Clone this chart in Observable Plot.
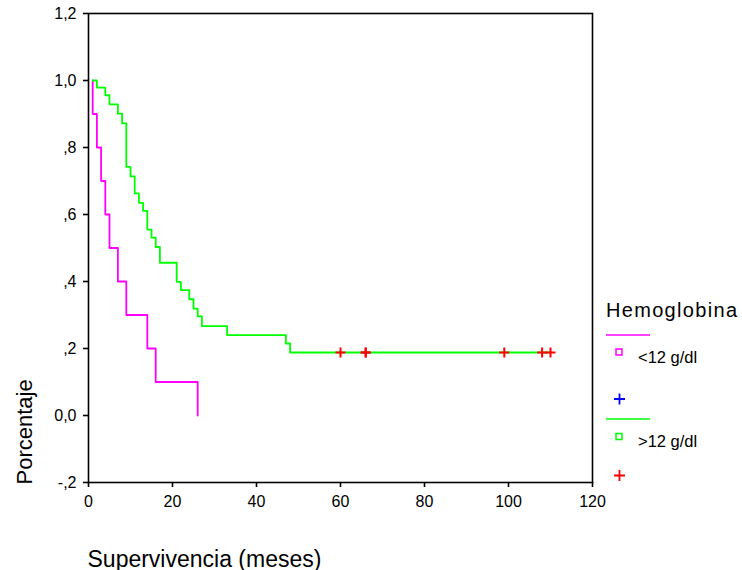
<!DOCTYPE html>
<html>
<head>
<meta charset="utf-8">
<script src="https://cdn.jsdelivr.net/npm/d3@7"></script>
<script src="https://cdn.jsdelivr.net/npm/@observablehq/plot@0.6"></script>
<style>
  html, body { margin: 0; padding: 0; background: #fff; }
  #wrap { position: relative; width: 742px; height: 570px; font-family: "Liberation Sans", Arial, sans-serif; }
  #legend { position: absolute; left: 0; top: 0; pointer-events: none; }
</style>
</head>
<body>
<div id="wrap"></div>
<script>
// ---- data ----
const groups = ["<12 g/dl", ">12 g/dl"];
const groupColors = ["#FF00FF", "#00FF00"];
const censorColors = ["#0000FF", "#FF0000"];

// <12 g/dl (step points: time, survival)
const lowTimes = [1, 1, 2, 3, 4, 5, 7, 9, 14, 16, 26];
const lowSurv  = [1.0, 0.9, 0.8, 0.7, 0.6, 0.5, 0.4, 0.3, 0.2, 0.1, 0.0];

// >12 g/dl
const highTimes = [1, 2, 4, 5, 7, 8, 9, 10, 11, 12, 13, 14, 15, 16, 17, 21, 22, 24, 25, 26, 27, 33, 47, 48, 110];
const highSurv  = [1.0, 0.979, 0.956, 0.929, 0.901, 0.872, 0.742, 0.714, 0.663, 0.635, 0.611, 0.555, 0.531, 0.503, 0.456, 0.399, 0.374, 0.347, 0.319, 0.296, 0.267, 0.240, 0.215, 0.188, 0.188];

// censored observations (>12 g/dl)
const highCensorTimes = [60, 66, 66, 99, 108, 110];
const highCensorSurv  = [0.188, 0.188, 0.188, 0.188, 0.188, 0.188];

const xTicks = [0, 20, 40, 60, 80, 100, 120];
const xTickLabels = ["0", "20", "40", "60", "80", "100", "120"];
const yTicks = [-0.2, 0, 0.2, 0.4, 0.6, 0.8, 1.0, 1.2];
const yTickLabels = ["-,2", "0,0", ",2", ",4", ",6", ",8", "1,0", "1,2"];

const xTitle = "Supervivencia (meses)";
const yTitle = "Porcentaje";
const legendTitle = "Hemoglobina";

// ---- tables ----
const lowData = lowTimes.map((t, i) => ({t, s: lowSurv[i]}));
const highData = highTimes.map((t, i) => ({t, s: highSurv[i]}));
const censorData = highCensorTimes.map((t, i) => ({t, s: highCensorSurv[i]}));

const plusSymbol = {
  draw(context, size) {
    const r = Math.sqrt(size / Math.PI);
    context.moveTo(-r, 0); context.lineTo(r, 0);
    context.moveTo(0, -r); context.lineTo(0, r);
  }
};

const FONT = '"Liberation Sans", Arial, sans-serif';

const chart = Plot.plot({
  width: 742,
  height: 570,
  marginLeft: 88,
  marginRight: 150,
  marginTop: 13,
  marginBottom: 88,
  style: {fontFamily: FONT, fontSize: "16px", color: "#000", background: "#fff", overflow: "visible"},
  x: {domain: [0, 120]},
  y: {domain: [-0.2, 1.2]},
  marks: [
    Plot.frame({stroke: "#000", strokeWidth: 1.6}),
    Plot.axisX({ticks: xTicks, tickFormat: (d) => xTickLabels[xTicks.indexOf(d)], tickSize: 5, tickPadding: 8, strokeWidth: 1.6, fontSize: 16, label: null}),
    Plot.axisY({ticks: yTicks, tickFormat: (d) => yTickLabels[yTicks.findIndex(v => Math.abs(v - d) < 1e-9)], tickSize: 5, tickPadding: 7, strokeWidth: 1.6, fontSize: 16, label: null}),
    Plot.line(lowData, {x: "t", y: "s", curve: "step-after", stroke: groupColors[0], strokeWidth: 1.8}),
    Plot.line(highData, {x: "t", y: "s", curve: "step-after", stroke: groupColors[1], strokeWidth: 1.8}),
    Plot.dot(censorData, {x: "t", y: "s", symbol: plusSymbol, r: 5, stroke: censorColors[1], strokeWidth: 2, fill: "none"}),
    Plot.text([xTitle], {frameAnchor: "bottom-left", text: d => d, textAnchor: "start", lineAnchor: "bottom", dx: -1, dy: 84, fontSize: 23}),
    Plot.text([yTitle], {frameAnchor: "bottom-left", text: d => d, textAnchor: "start", lineAnchor: "bottom", rotate: -90, dx: -57, dy: 2, fontSize: 22})
  ]
});

const wrap = document.getElementById("wrap");
wrap.appendChild(chart);

// ---- legend ----
const lg = d3.select(wrap).append("svg")
  .attr("id", "legend")
  .attr("width", 742).attr("height", 570)
  .style("font-family", FONT);

lg.append("text").attr("x", 606).attr("y", 317).attr("font-size", 20)
  .attr("textLength", 131).attr("lengthAdjust", "spacing").text(legendTitle);

const rows = [
  {lineY: 335, sqY: 352, textY: 363, plusY: 399},
  {lineY: 419, sqY: 436.5, textY: 447, plusY: 475.5}
];
rows.forEach((r, i) => {
  lg.append("line").attr("x1", 606).attr("x2", 650).attr("y1", r.lineY).attr("y2", r.lineY)
    .attr("stroke", groupColors[i]).attr("stroke-width", 1.6);
  lg.append("rect").attr("x", 616).attr("y", r.sqY - 3).attr("width", 6).attr("height", 6)
    .attr("fill", "none").attr("stroke", groupColors[i]).attr("stroke-width", 1.5);
  lg.append("text").attr("x", 638).attr("y", r.textY).attr("font-size", 16.5).text(groups[i]);
  const p = d3.path();
  p.moveTo(614, r.plusY); p.lineTo(625, r.plusY);
  p.moveTo(619.5, r.plusY - 5.5); p.lineTo(619.5, r.plusY + 5.5);
  lg.append("path").attr("d", p.toString()).attr("stroke", censorColors[i]).attr("stroke-width", 1.8).attr("fill", "none");
});
</script>
</body>
</html>
